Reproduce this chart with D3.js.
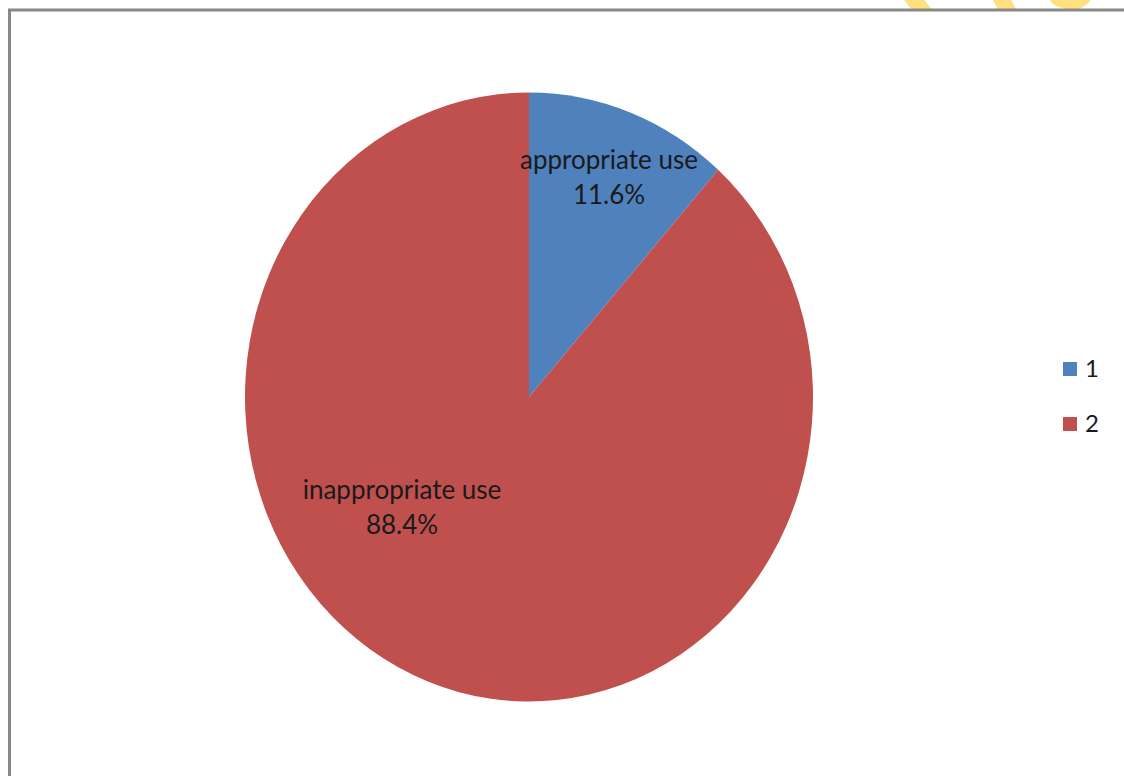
<!DOCTYPE html>
<html>
<head>
<meta charset="utf-8">
<script src="https://cdn.jsdelivr.net/npm/d3@7"></script>
<style>
  html, body { margin: 0; padding: 0; background: #fff; }
  svg { display: block; }
</style>
</head>
<body>
<svg id="chart" width="1124" height="776"></svg>
<script>
const categories = ["appropriate use", "inappropriate use"];
const legendLabels = ["1", "2"];
const values = [11.6, 88.4];
const colors = ["#4F81BD", "#C0504D"];

const svg = d3.select("#chart");

// watermark fragments at top edge (clipped above frame)
svg.append("clipPath").attr("id", "wmclip")
  .append("rect").attr("x", 0).attr("y", 0).attr("width", 1124).attr("height", 9);
const wm = svg.append("g").attr("clip-path", "url(#wmclip)")
  .attr("fill", "none").attr("stroke", "#FFE07F").attr("stroke-width", 16).attr("stroke-linecap", "round");
wm.append("path").attr("d", "M905,-12 L925,14");
wm.append("path").attr("d", "M995,-12 L1010,14");
wm.append("path").attr("d", "M1058,-2 Q1080,8 1087,-10");

// frame
svg.append("path")
  .attr("d", "M9.5,776 L9.5,10 L1124,10")
  .attr("fill", "none").attr("stroke", "#888").attr("stroke-width", 3);

const cx = 529, cy = 397, rx = 284, ry = 304.5;
const pie = d3.pie().sort(null).value(d => d)(values);
const arc = d3.arc().innerRadius(0).outerRadius(ry);

const g = svg.append("g").attr("transform", `translate(${cx},${cy}) scale(${rx / ry},1)`);
g.selectAll("path").data(pie).join("path")
  .attr("d", arc)
  .attr("fill", (d, i) => colors[i]);

// labels
const labelPos = [[609, 160], [402, 490]];
const fmt = v => v.toFixed(1) + "%";
categories.forEach((c, i) => {
  const t = svg.append("text")
    .attr("x", labelPos[i][0]).attr("y", labelPos[i][1])
    .attr("text-anchor", "middle")
    .attr("font-family", "Lato, 'Open Sans', sans-serif")
    .attr("font-size", 26)
    .attr("fill", "#1a1a1a");
  t.append("tspan").attr("x", labelPos[i][0]).attr("dy", "0.35em").text(c);
  t.append("tspan").attr("x", labelPos[i][0]).attr("dy", 35).text(fmt(values[i]));
});

// legend
const leg = svg.append("g").attr("transform", "translate(1063,362)");
legendLabels.forEach((l, i) => {
  const row = leg.append("g").attr("transform", `translate(0,${i * 55})`);
  row.append("rect").attr("width", 14).attr("height", 14).attr("fill", colors[i]);
  row.append("text").attr("x", 22).attr("y", 7).attr("dy", "0.35em")
    .attr("font-family", "Lato, 'Open Sans', sans-serif")
    .attr("font-size", 24).attr("fill", "#1a1a1a").text(l);
});
</script>
</body>
</html>
